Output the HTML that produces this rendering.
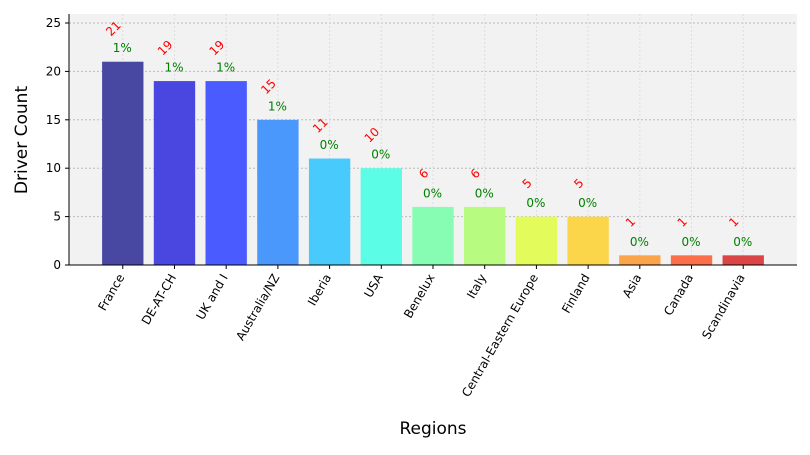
<!DOCTYPE html>
<html><head><meta charset="utf-8"><style>
body{margin:0;background:#fff;font-family:"Liberation Sans","DejaVu Sans",sans-serif;}
svg text{font-family:"DejaVu Sans","Liberation Sans",sans-serif;}
</style></head><body>
<svg id="chart" width="810" height="450" xmlns="http://www.w3.org/2000/svg">
<rect x="69" y="14" width="728" height="251" fill="#f2f2f2"/>
<g id="grid"></g><g id="bars"></g><g id="labels"></g><g id="axes"></g>
<text x="27" y="140" font-size="17" text-anchor="middle" transform="rotate(-90 27 140)">Driver Count</text>
<text x="433" y="434" font-size="17" text-anchor="middle">Regions</text>
</svg>
<script>
const categories=["France","DE-AT-CH","UK and I","Australia/NZ","Iberia","USA","Benelux","Italy","Central-Eastern Europe","Finland","Asia","Canada","Scandinavia"];
const counts=[21,19,19,15,11,10,6,6,5,5,1,1,1];
const pcts=["1%","1%","1%","1%","0%","0%","0%","0%","0%","0%","0%","0%","0%"];
const yTicks=[0,5,10,15,20,25];
const colors=["#4848a2","#4a46e0","#4a5cff","#4a98fb","#48cbfc","#5cfde6","#86fdb3","#b7fb80","#e3fb5b","#fbd64a","#fba54a","#fb6f4a","#dc4545"];
const NS="http://www.w3.org/2000/svg";
const L=69,R=797,T=14,B=265;
const x=i=>L+(i+1.04)/14.08*(R-L);
const y=v=>B-v*(B-23)/25;
const bw=0.8/14.08*(R-L);
function mk(tag,attrs,parent,text){const e=document.createElementNS(NS,tag);for(const k in attrs)e.setAttribute(k,attrs[k]);if(text!==undefined)e.textContent=text;document.getElementById(parent).appendChild(e);return e;}
yTicks.forEach(t=>{
 const g=mk('line',{x1:L,x2:R,y1:y(t),y2:y(t),stroke:'#bbb','stroke-dasharray':'2,2','stroke-width':1},'grid');
 
 
 const tk=mk('line',{x1:L-4,x2:L,y1:y(t),y2:y(t),stroke:'#000'},'axes');
 
 
 const tl=mk('text',{x:L-8,y:y(t)+4,'font-size':12,'text-anchor':'end'},'axes',t);
 
 
});
categories.forEach((c,i)=>{
 const cx=x(i);
 const vg=mk('line',{x1:cx,x2:cx,y1:T,y2:B,stroke:'#ddd','stroke-dasharray':'2,2'},'grid');
 
 
 const b=mk('rect',{x:cx-bw/2,y:y(counts[i]),width:bw,height:B-y(counts[i]),fill:colors[i]},'bars');
 
 
 const py=y(counts[i]+1.5)+5;
 const p=mk('text',{x:cx-10,y:py,'font-size':12,fill:'green'},'labels',pcts[i]);
 
 
 const cy=y(counts[i]+3.5);
 const n=mk('text',{x:cx-10,y:cy+5,'font-size':12,fill:'red','text-anchor':'middle',transform:`rotate(-45 ${cx-10} ${cy})`},'labels',counts[i]);
 
 
 const tk=mk('line',{x1:cx,x2:cx,y1:B,y2:B+4,stroke:'#000'},'axes');
 
 
 const tl=mk('text',{x:cx+2,y:B+12,'font-size':12,'text-anchor':'end',transform:`rotate(-60 ${cx+2} ${B+12})`},'axes',c);
 
 
});
const ya=mk('line',{x1:L,x2:L,y1:T,y2:B,stroke:'#000'},'axes');


const xa=mk('line',{x1:L,x2:R,y1:B,y2:B,stroke:'#000'},'axes');


</script>
</body></html>
